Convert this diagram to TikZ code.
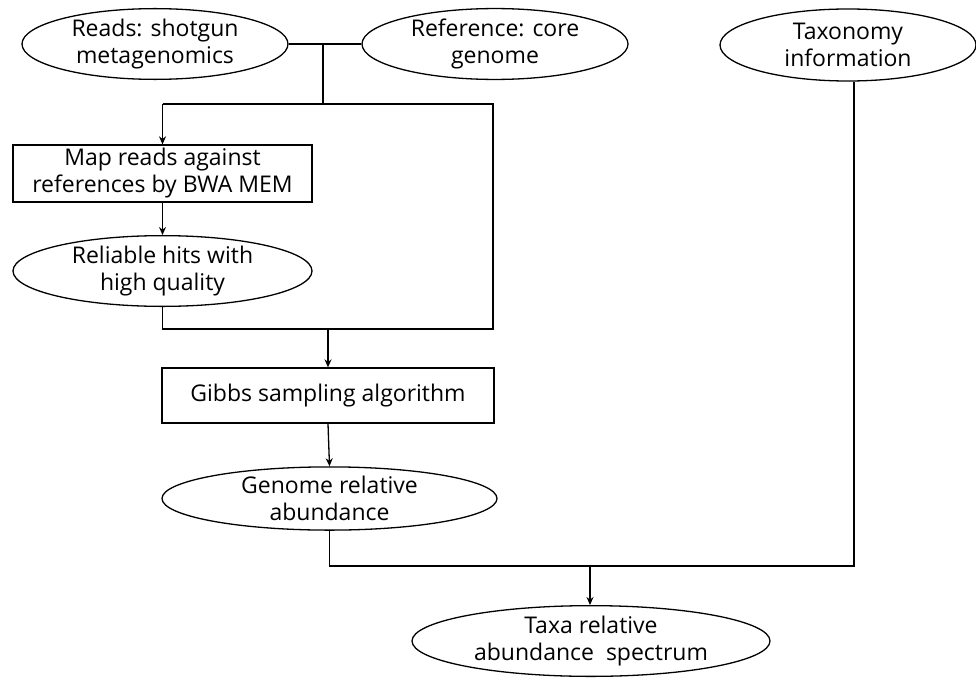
\documentclass[tikz,border=0pt]{standalone}
\usepackage{fontspec}
\setmainfont{Open Sans}
\usetikzlibrary{shapes.geometric,arrows.meta}
\begin{document}
\begin{tikzpicture}[x=1pt,y=-1pt,
  every node/.style={font=\fontsize{23}{27}\selectfont, align=center, inner sep=0pt, line width=1.3pt},
  oval/.style={draw, ellipse},
  boxnode/.style={draw, rectangle},
  conn/.style={line width=1.3pt},
  arr/.style={line width=1.3pt, -{Stealth[length=8pt,width=7pt]}}]
\useasboundingbox (0,0) rectangle (976,677);
% nodes
\node[oval, minimum width=266pt, minimum height=68pt] (reads) at (155,44) {Reads: shotgun\\metagenomics};
\node[oval, minimum width=266pt, minimum height=68pt] (ref) at (495,44) {Reference: core\\genome};
\node[oval, minimum width=256pt, minimum height=72pt] (tax) at (848,45) {Taxonomy\\information};
\node[boxnode, minimum width=299pt, minimum height=57pt] (map) at (162.5,173.5) {Map reads against\\references by BWA MEM};
\node[oval, minimum width=299pt, minimum height=58pt] (rel) at (162.5,271) {Reliable hits with\\high quality};
\node[boxnode, minimum width=332pt, minimum height=55pt] (gibbs) at (328,395.5) {Gibbs sampling algorithm};
\node[oval, minimum width=335pt, minimum height=63pt] (gen) at (329.5,498.5) {Genome relative\\abundance};
\node[oval, minimum width=358pt, minimum height=70pt] (taxa) at (591,641) {Taxa relative\\abundance~~spectrum};
% junction coordinates
\coordinate (j1) at (323,44);
\coordinate (j2) at (323,104);
\coordinate (jl) at (162.5,104);
\coordinate (jr) at (493,104);
\coordinate (k1) at (162.5,329);
\coordinate (k2) at (493,329);
\coordinate (k3) at (328,329);
\coordinate (m1) at (328,566);
\coordinate (m2) at (854,566);
\coordinate (m3) at (590,566);
% connectors
\draw[conn] (reads.east) -- (ref.west);
\draw[conn] (j1) -- (j2);
\draw[conn] (jl) -- (jr) -- (k2) -- (k1) -- (rel.south);
\draw[arr] (jl) -- (map.north);
\draw[arr] (map.south) -- (rel.north);
\draw[arr] (k3) -- (gibbs.north);
\draw[arr] (gibbs.south) -- (gen.north);
\draw[conn] (gen.south) -- (gen.south |- m1) -- (m2) -- (m2 |- tax.south);
\draw[arr] (m3) -- (m3 |- taxa.north);
\end{tikzpicture}
\end{document}
